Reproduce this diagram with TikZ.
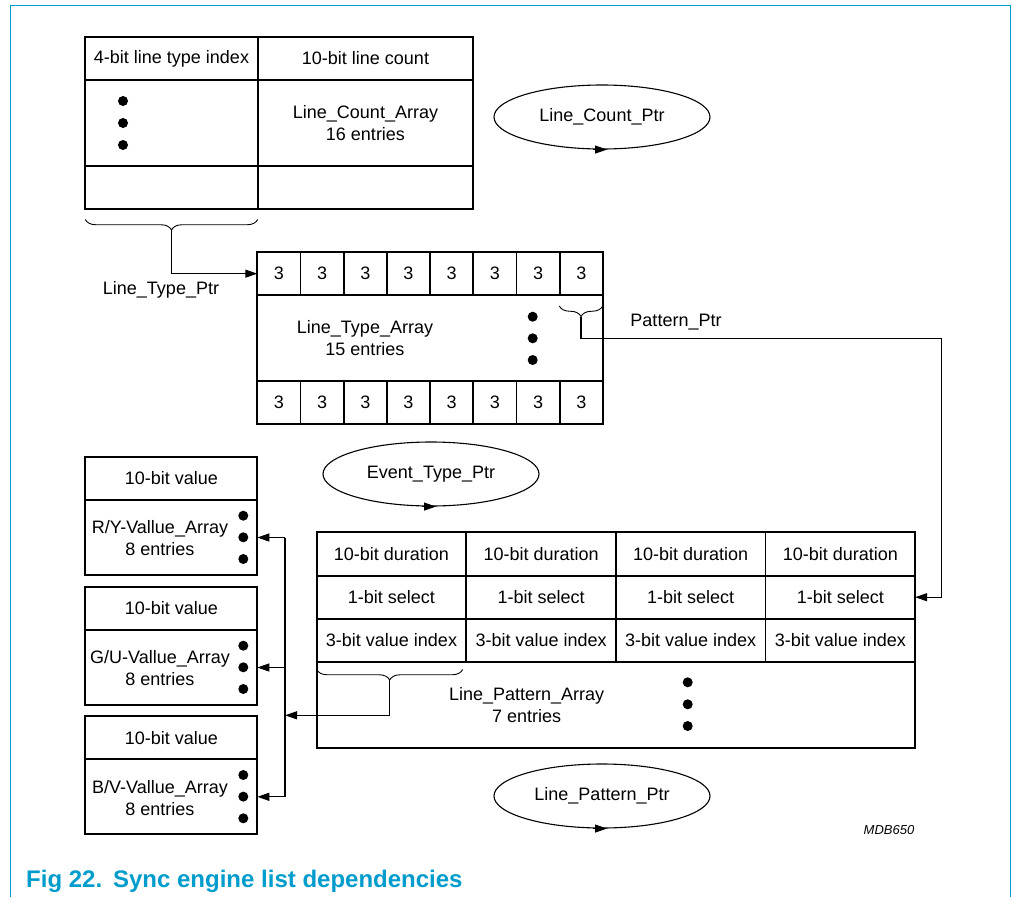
\documentclass[tikz,border=0pt]{standalone}
\usepackage{fontspec}
\setmainfont{Liberation Sans}
\usetikzlibrary{arrows.meta,decorations.pathreplacing,shapes.geometric}
\definecolor{figblue}{RGB}{0,156,204}

\begin{document}
\begin{tikzpicture}[x=1pt,y=-1pt,
    every node/.style={font=\fontsize{18}{22}\selectfont},
    cell/.style={draw, line width=1.8pt, anchor=north west, inner sep=0pt, outer sep=0pt},
    ptr/.style={line width=1.1pt, -{Triangle[length=12pt,width=8pt]}},
    wire/.style={line width=1.1pt},
    ptrname/.style={ellipse, draw, line width=1.1pt, minimum width=216pt,
      minimum height=64pt, inner sep=0pt},
    ebrace/.style={decorate, decoration={brace, amplitude=10.5pt, mirror}, line width=0.9pt}
  ]
  \useasboundingbox (0,0) rectangle (1012,897);
  \draw[figblue, line width=1.6pt] (10.5,897) -- (10.5,5.3) -- (1010.5,5.3) -- (1010.5,897);

  % Line_Count_Array
  \node[cell, minimum width=172.4pt, minimum height=43.3pt] (lcIdxHead) at (85.3,36.7) {4-bit line type index};
  \node[cell, minimum width=215.6pt, minimum height=43.3pt] (lcCntHead) at (257.7,36.7) {10-bit line count};
  \node[cell, minimum width=172.4pt, minimum height=85.7pt] (lcIdxBody) at (85.3,80) {};
  \node[cell, minimum width=215.6pt, minimum height=85.7pt, align=center] (lcCntBody) at (257.7,80)
    {Line\_Count\_Array\\16 entries};
  \node[cell, minimum width=172.4pt, minimum height=43.6pt] (lcIdxLast) at (85.3,165.7) {};
  \node[cell, minimum width=215.6pt, minimum height=43.6pt] (lcCntLast) at (257.7,165.7) {};
  \foreach \y in {101,123,145}
    \fill (123,\y) circle (5pt);
  \draw[ebrace] (85.3,219.5) -- (257.7,219.5);
  \coordinate (lcTip) at (171.5,230);
  \node[ptrname] (lcPtr) at (602,117) {Line\_Count\_Ptr};

  % Line_Type_Array
  \foreach \i in {1,...,8} {
    \node[cell, minimum width=43.2pt, minimum height=42.7pt] (lt\i) at ({257.3+43.2*(\i-1)},252.3) {3};
    \node[cell, minimum width=43.2pt, minimum height=43pt] (lb\i) at ({257.3+43.2*(\i-1)},381) {3};
  }
  \node[cell, minimum width=345.6pt, minimum height=86pt] (ltBody) at (257.3,295) {};
  \node[align=center] (ltName) at (365,338) {Line\_Type\_Array\\15 entries};
  \foreach \y in {316.7,338.3,360}
    \fill (532.7,\y) circle (5pt);
  \draw[ebrace] (559.3,306) -- (602.7,306);
  \coordinate (ltTip) at (581,316.5);
  \node (ltPtrLabel) at (161,290) {Line\_Type\_Ptr};
  \node (patPtrLabel) at (676,321.7) {Pattern\_Ptr};
  \draw[ptr] (lcTip) |- (lt1.west);

  \node[ptrname] (evPtr) at (431,474) {Event\_Type\_Ptr};

  % Line_Pattern_Array
  \foreach \i in {1,...,4} {
    \node[cell, minimum width=149.6pt, minimum height=43.7pt] (lpDur\i) at ({316.7+149.6*(\i-1)},532) {10-bit duration};
    \node[cell, minimum width=149.6pt, minimum height=43pt] (lpSel\i) at ({316.7+149.6*(\i-1)},575.7) {1-bit select};
    \node[cell, minimum width=149.6pt, minimum height=43pt] (lpIdx\i) at ({316.7+149.6*(\i-1)},618.7) {3-bit value index};
  }
  \node[cell, minimum width=598.4pt, minimum height=86pt] (lpBody) at (316.7,661.7) {};
  \node[align=center] (lpName) at (526.7,705) {Line\_Pattern\_Array\\7 entries};
  \foreach \y in {682.3,704.3,726}
    \fill (687.7,\y) circle (5pt);
  \draw[ebrace] (316.7,669.5) -- (462.7,669.5);
  \coordinate (lpTip) at (389.7,680);
  \coordinate (patTurn) at (941.7,338.3);
  \draw[ptr] (ltTip) |- (patTurn) |- (lpSel4.east);

  \node[ptrname] (lpPtr) at (602,796) {Line\_Pattern\_Ptr};
  \foreach \e in {lcPtr,evPtr,lpPtr}
    \draw[ptr] ([xshift=-9pt]\e.south) -- ([xshift=5pt]\e.south);

  % value arrays
  \node[cell, minimum width=172pt, minimum height=43.3pt] (ryHead) at (85.3,456.7) {10-bit value};
  \node[cell, minimum width=172pt, minimum height=75pt] (ryBody) at (85.3,500) {};
  \node[align=center] (ryName) at (160,538.3) {R/Y-Vallue\_Array\\8 entries};
  \node[cell, minimum width=172pt, minimum height=43.3pt] (guHead) at (85.3,586.7) {10-bit value};
  \node[cell, minimum width=172pt, minimum height=75pt] (guBody) at (85.3,630) {};
  \node[align=center] (guName) at (160,668.3) {G/U-Vallue\_Array\\8 entries};
  \node[cell, minimum width=172pt, minimum height=43.3pt] (bvHead) at (85.3,716) {10-bit value};
  \node[cell, minimum width=172pt, minimum height=75pt] (bvBody) at (85.3,759.3) {};
  \node[align=center] (bvName) at (160,797.6) {B/V-Vallue\_Array\\8 entries};
  \foreach \y in {515.7,537.3,559,645.7,667.3,689,775,796.6,818.3}
    \fill (243.3,\y) circle (5pt);

  \coordinate (busIn) at (285,715.3);
  \draw[ptr] (lpTip) |- (busIn);
  \draw[wire] (ryBody.east -| busIn) -- (bvBody.east -| busIn);
  \draw[ptr] (ryBody.east -| busIn) -- (ryBody.east);
  \draw[ptr] (guBody.east -| busIn) -- (guBody.east);
  \draw[ptr] (bvBody.east -| busIn) -- (bvBody.east);

  \node[font=\fontsize{13}{15}\selectfont\itshape] (figId) at (889,830) {MDB650};
  \node[anchor=base west, text=figblue, font=\fontsize{24}{28}\selectfont\bfseries, inner sep=0pt]
    (figTitle) at (26,887) {Fig 22.\hspace{2pt} Sync engine list dependencies};
\end{tikzpicture}
\end{document}
